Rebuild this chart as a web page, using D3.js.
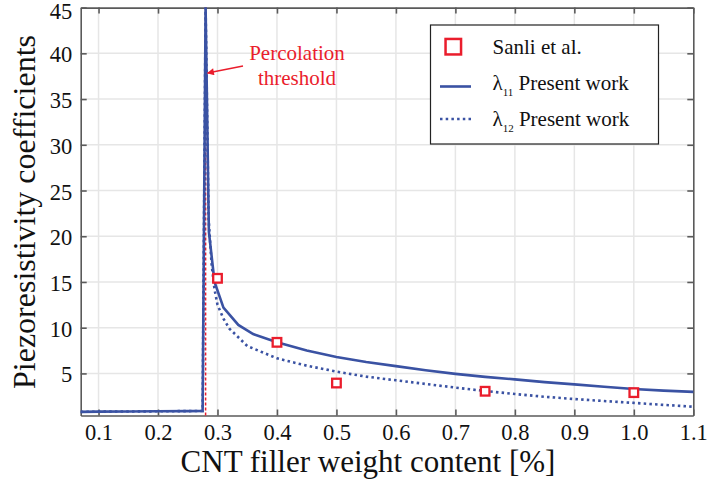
<!DOCTYPE html>
<html><head><meta charset="utf-8">
<script src="https://cdn.jsdelivr.net/npm/d3@7"></script>
<style>body{margin:0;background:#fff;} svg{display:block;}</style>
</head><body>
<svg id="c" width="707" height="481"></svg>
<script>
// Data
const lambda11X = [0.07,0.10,0.15,0.20,0.25,0.275,0.28,0.2855,0.295,0.31,0.335,0.36,0.40,0.45,0.50,0.55,0.60,0.65,0.70,0.75,0.80,0.85,0.90,0.95,1.00,1.05,1.10];
const lambda11Y = [0.80,0.82,0.84,0.86,0.88,0.90,45,20.5,15.0,12.2,10.3,9.3,8.4,7.5,6.8,6.25,5.8,5.35,4.95,4.62,4.35,4.05,3.8,3.55,3.3,3.12,2.98];
const lambda12X = [0.07,0.10,0.15,0.20,0.25,0.275,0.28,0.285,0.29,0.295,0.30,0.31,0.32,0.35,0.40,0.45,0.50,0.55,0.60,0.65,0.70,0.75,0.80,0.85,0.90,0.95,1.00,1.05,1.10];
const lambda12Y = [0.80,0.82,0.84,0.86,0.88,0.90,45,22,17,14.2,12.5,11.0,9.9,8.0,6.65,5.85,5.2,4.65,4.25,3.85,3.45,3.08,2.75,2.45,2.2,1.98,1.78,1.56,1.36];
const sanliX = [0.3,0.4,0.5,0.75,1.0];
const sanliY = [15.4,8.4,3.95,3.05,2.9];
const xTicks = [0.1,0.2,0.3,0.4,0.5,0.6,0.7,0.8,0.9,1.0,1.1];
const yTicks = [5,10,15,20,25,30,35,40,45];
const threshold = 0.28;

const svg = d3.select('#c');
const m = {l:80.7, r:13.7, t:7.6, b:65.5};
const W = 707, H = 481;
const x = d3.scaleLinear().domain([0.07,1.1]).range([m.l, W-m.r]);
const y = d3.scaleLinear().domain([0.4,45]).range([H-m.b, m.t]);
const blue = '#3a52a3', red = '#ea1d2c', axisCol = '#5a5a5a';
const serif = "'Liberation Serif'";

// grid
svg.append('g').selectAll('line').data(xTicks.filter(d=>d<1.1)).join('line')
  .attr('x1',d=>x(d)).attr('x2',d=>x(d)).attr('y1',y(45)).attr('y2',y(0.4))
  .attr('stroke','#e6e6e6').attr('stroke-width',1.5);
svg.append('g').selectAll('line').data(yTicks.filter(d=>d<45)).join('line')
  .attr('x1',x(0.07)).attr('x2',x(1.1)).attr('y1',d=>y(d)).attr('y2',d=>y(d))
  .attr('stroke','#e6e6e6').attr('stroke-width',1.5);

// axes
const tl = 6;
const gB = svg.append('g').attr('transform',`translate(0,${y(0.4)})`)
  .call(d3.axisBottom(x).tickValues(xTicks).tickFormat(d3.format('.1f')).tickSizeInner(-tl).tickSizeOuter(0).tickPadding(8.5));
const gT = svg.append('g').attr('transform',`translate(0,${y(45)})`)
  .call(d3.axisTop(x).tickValues(xTicks).tickFormat('').tickSizeInner(-tl).tickSizeOuter(0));
const gL = svg.append('g').attr('transform',`translate(${x(0.07)},0)`)
  .call(d3.axisLeft(y).tickValues(yTicks).tickFormat(d3.format('d')).tickSizeInner(-tl).tickSizeOuter(0).tickPadding(8.5));
const gR = svg.append('g').attr('transform',`translate(${x(1.1)},0)`)
  .call(d3.axisRight(y).tickValues(yTicks).tickFormat('').tickSizeInner(-tl).tickSizeOuter(0));
[gB,gT,gL,gR].forEach(g=>{
  g.attr('font-family',null);
  g.select('.domain').attr('stroke',axisCol).attr('stroke-width',1.6);
  g.selectAll('.tick line').attr('stroke',axisCol).attr('stroke-width',1.6);
  g.selectAll('.tick text').style('font-family',serif).style('font-size','22.5px').attr('fill','#111');
});
gL.selectAll('.tick text').attr('dy',d=> d===45 ? '0.5em' : '0.38em');

// threshold line
svg.append('line').attr('x1',x(threshold)).attr('x2',x(threshold))
  .attr('y1',y(0.4)).attr('y2',y(45))
  .attr('stroke',red).attr('stroke-width',1.5).attr('stroke-dasharray','3,2');

const line = d3.line().x(d=>x(d[0])).y(d=>y(d[1]));
svg.append('path').datum(lambda12X.map((d,i)=>[d,lambda12Y[i]]))
  .attr('d',line).attr('fill','none').attr('stroke',blue).attr('stroke-width',2.6)
  .attr('stroke-dasharray','2.5,3.2');
svg.append('path').datum(lambda11X.map((d,i)=>[d,lambda11Y[i]]))
  .attr('d',line).attr('fill','none').attr('stroke',blue).attr('stroke-width',2.6);

// markers
const ms = 8.6;
svg.append('g').selectAll('rect').data(sanliX.map((d,i)=>[d,sanliY[i]])).join('rect')
  .attr('x',d=>x(d[0])-ms/2).attr('y',d=>y(d[1])-ms/2).attr('width',ms).attr('height',ms)
  .attr('fill','#fff').attr('stroke',red).attr('stroke-width',2.3);

// annotation
svg.append('defs').append('marker').attr('id','ah').attr('viewBox','0 0 10 10')
  .attr('refX',9).attr('refY',5).attr('markerWidth',10).attr('markerHeight',7).attr('orient','auto')
  .attr('markerUnits','userSpaceOnUse')
  .append('path').attr('d','M0,0 L10,5 L0,10 Z').attr('fill',red);
svg.append('line').attr('x1',243).attr('y1',66).attr('x2',x(threshold)+2).attr('y2',73)
  .attr('stroke',red).attr('stroke-width',1.5).attr('marker-end','url(#ah)');
svg.append('text').attr('x',297).attr('y',60).attr('text-anchor','middle')
  .style('font-family',serif).style('font-size','21px').attr('fill',red).text('Percolation');
svg.append('text').attr('x',297).attr('y',85).attr('text-anchor','middle')
  .style('font-family',serif).style('font-size','21px').attr('fill',red).text('threshold');

// axis titles
svg.append('text').attr('x',(x(0.07)+x(1.1))/2 - 19).attr('y',472).attr('text-anchor','middle')
  .style('font-family',serif).style('font-size','31px').attr('fill','#111').text('CNT filler weight content [%]');
svg.append('text').attr('transform',`translate(35,212) rotate(-90)`)
  .attr('text-anchor','middle').style('font-family',serif).style('font-size','32px').attr('fill','#111')
  .text('Piezoresistivity coefficients');

// legend
const lg = svg.append('g');
lg.append('rect').attr('x',430.5).attr('y',25).attr('width',228).attr('height',119)
  .attr('fill','#fff').attr('stroke','#222').attr('stroke-width',1.2);
const lms = 15.5;
lg.append('rect').attr('x',453.3-lms/2).attr('y',46.7-lms/2).attr('width',lms).attr('height',lms)
  .attr('fill','#fff').attr('stroke',red).attr('stroke-width',2.5);
lg.append('line').attr('x1',440).attr('x2',471).attr('y1',86.5).attr('y2',86.5)
  .attr('stroke',blue).attr('stroke-width',2.6);
lg.append('line').attr('x1',440).attr('x2',471).attr('y1',119).attr('y2',119)
  .attr('stroke',blue).attr('stroke-width',2.6).attr('stroke-dasharray','2.5,3.2');
const legendTexts = [['Sanli et al.',null,53.5],['λ','11',90],['λ','12',126]];
legendTexts.forEach(([a,sub,yy])=>{
  const t = lg.append('text').attr('x',492.5).attr('y',yy).style('font-family',serif).style('font-size','21px').attr('fill','#111');
  t.append('tspan').text(a);
  if(sub){
    t.append('tspan').style('font-size','11px').attr('dy',6).text(sub);
    t.append('tspan').attr('dy',-6).text(' Present work');
  }
});
</script>
</body></html>
